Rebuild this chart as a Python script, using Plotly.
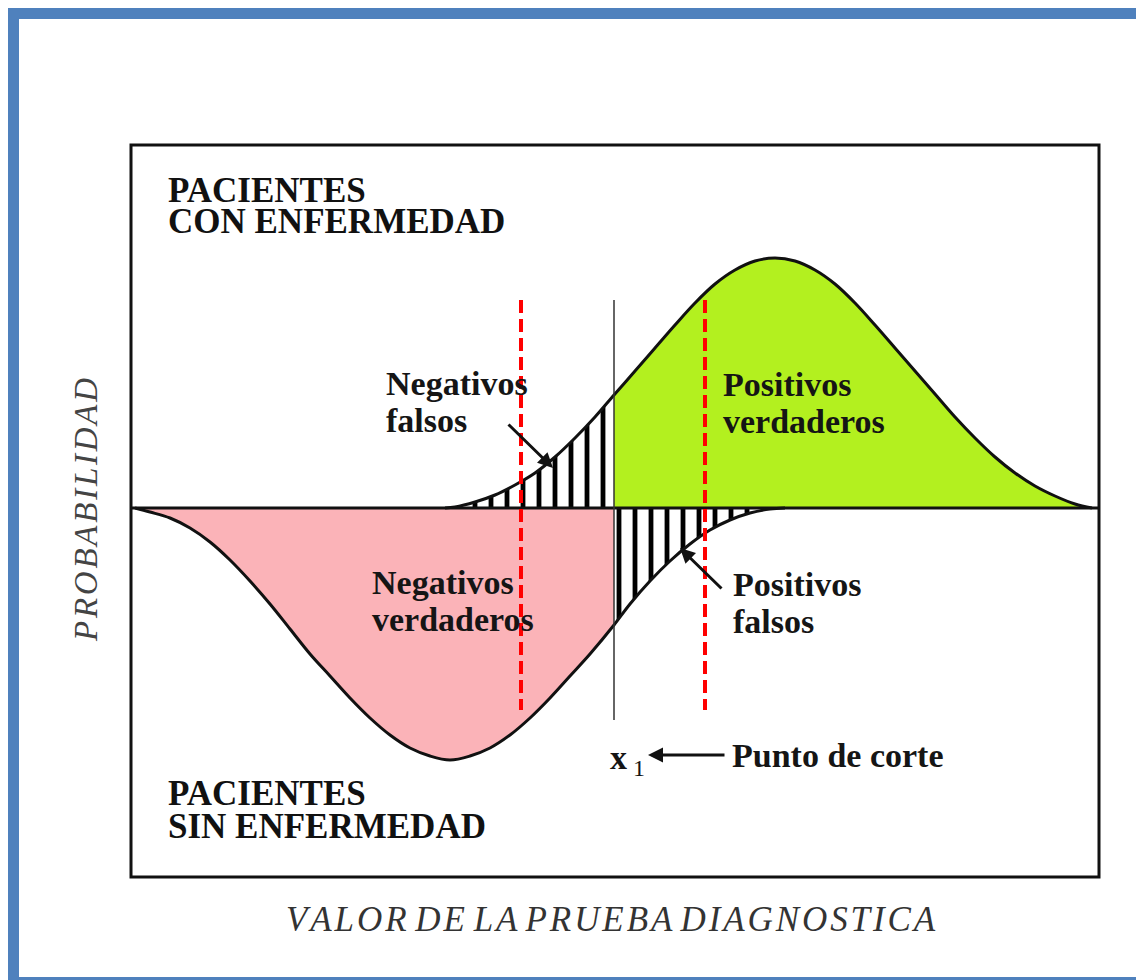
import plotly.graph_objects as go

# curve for patients with disease (upper), heights above baseline
valor_enf = [445, 455, 475, 495, 515, 535, 555, 575, 595, 614, 635, 655, 675, 695,
             715, 735, 755, 775, 795, 815, 835, 855, 875, 895, 915, 935, 955,
             975, 995, 1015, 1035, 1055, 1075, 1092]
prob_enf = [0, 1, 6, 13, 23, 35, 51, 70, 91, 113, 137, 160, 183, 205,
            224, 238, 247, 250, 247, 238, 224, 205, 183, 160, 137, 114, 91,
            70, 51, 35, 22, 12, 4, 0]

# curve for patients without disease (lower), depths below baseline
valor_sin = [135, 150, 170, 190, 210, 230, 250, 270, 290, 310, 330, 350, 370,
             390, 410, 430, 450, 470, 490, 510, 530, 550, 570, 590, 614, 630,
             650, 670, 690, 710, 730, 750, 770, 785]
prob_sin = [0, -4, -10, -20, -34, -52, -73, -96, -121, -146, -168, -190, -210,
            -227, -240, -248, -252, -248, -240, -227, -210, -190, -168, -146, -117, -96,
            -73, -53, -36, -22, -12, -5, -1, 0]

corte = 614               # punto de corte x1
referencias = [521, 705]  # red dashed lines

VERDE = '#B3F01F'
ROSA = '#FBB3B8'
AZUL = '#4F81BD'
FONT = 'Liberation Serif'


def seg(xs, ys, lo, hi):
    pts = [(x, y) for x, y in zip(xs, ys) if lo <= x <= hi]
    return [p[0] for p in pts], [p[1] for p in pts]


# page pixel -> paper fraction (plot area spans page px 131..1099, 145..877)
def pxx(px):
    return (px - 131) / 968


def pxy(py):
    return (877 - py) / 732


fig = go.Figure()

hatch = dict(shape='|', size=16, solidity=0.3, fgcolor='#000', fgopacity=1,
             bgcolor='white', fillmode='replace')
spl = dict(width=0, shape='spline', smoothing=1)

# fills
x, y = seg(valor_enf, prob_enf, 0, corte)
fig.add_trace(go.Scatter(x=x, y=y, mode='lines', line=spl,
                         fill='tozeroy', fillpattern=hatch, hoverinfo='skip'))
x, y = seg(valor_enf, prob_enf, corte, 2000)
fig.add_trace(go.Scatter(x=x, y=y, mode='lines', line=spl,
                         fill='tozeroy', fillcolor=VERDE, hoverinfo='skip'))
x, y = seg(valor_sin, prob_sin, 0, corte)
fig.add_trace(go.Scatter(x=x, y=y, mode='lines', line=spl,
                         fill='tozeroy', fillcolor=ROSA, hoverinfo='skip'))
x, y = seg(valor_sin, prob_sin, corte, 2000)
fig.add_trace(go.Scatter(x=x, y=y, mode='lines', line=spl,
                         fill='tozeroy', fillpattern=hatch, hoverinfo='skip'))

# outlines
for xs, ys in [(valor_enf, prob_enf), (valor_sin, prob_sin)]:
    fig.add_trace(go.Scatter(x=xs, y=ys, mode='lines',
                             line=dict(color='#111', width=3, shape='spline', smoothing=1),
                             hoverinfo='skip'))

# baseline
fig.add_shape(type='line', xref='paper', yref='y', x0=0, x1=1, y0=0, y1=0,
              line=dict(color='#111', width=3))
# cutoff line
fig.add_shape(type='line', x0=corte, x1=corte, y0=208, y1=-212,
              line=dict(color='#333', width=1.5))
for r in referencias:
    fig.add_shape(type='line', x0=r, x1=r, y0=208, y1=-202,
                  line=dict(color='#FF0000', width=4, dash='13px,6px'))

# frame box
fig.add_shape(type='rect', xref='paper', yref='paper', x0=0, x1=1, y0=0, y1=1,
              line=dict(color='#111', width=3))

# blue page border
for x0, x1, y0, y1 in [(8, 19, 8, 985), (8, 1150, 8, 19), (8, 1150, 977, 985)]:
    fig.add_shape(type='rect', xref='paper', yref='paper',
                  x0=pxx(x0), x1=pxx(x1), y0=pxy(y0), y1=pxy(y1),
                  fillcolor=AZUL, line=dict(width=0), layer='above')

head = dict(family=FONT, size=35, color='#111')
lab = dict(family=FONT, size=34, color='#151515')


def txt(s, x, y, font, **kw):
    fig.add_annotation(text=s, x=x, y=y, xanchor='left', yanchor='middle',
                       showarrow=False, font=font, **kw)


txt('<b>PACIENTES</b>', 166, 318, head)
txt('<b>CON ENFERMEDAD</b>', 166, 287, head)
txt('<b>PACIENTES</b>', 166, -285, head)
txt('<b>SIN ENFERMEDAD</b>', 166, -318, head)

txt('<b>Negativos</b>', 384, 125, lab)
txt('<b>falsos</b>', 384, 88, lab)
txt('<b>Positivos</b>', 721, 124, lab)
txt('<b>verdaderos</b>', 721, 87, lab)
txt('<b>Negativos</b>', 370, -74, lab)
txt('<b>verdaderos</b>', 370, -111, lab)
txt('<b>Positivos</b>', 731, -76, lab)
txt('<b>falsos</b>', 731, -113, lab)
txt('<b>x</b>', 608, -249, lab)
txt('1', 631, -260, dict(family=FONT, size=24, color='#151515'))
txt('<b>Punto de corte</b>', 730, -247, lab)

# arrows
for hx, hy, tx, ty in [(553, 40, 507, 85), (680, -40, 723, -82), (648, -247, 726, -247)]:
    fig.add_annotation(x=hx, y=hy, ax=tx, ay=ty, axref='x', ayref='y', text='',
                       showarrow=True, arrowhead=2, arrowsize=1, arrowwidth=3,
                       arrowcolor='#111')

# axis titles
hair = '\u200a'
titulo_y = hair.join('PROBABILIDAD')
fig.add_annotation(text='<i>' + titulo_y + '</i>',
                   xref='paper', yref='paper', x=pxx(66), y=pxy(510), textangle=-90,
                   showarrow=False, font=dict(family=FONT, size=33, color='#444'))
titulo_x = 'VALOR DE LA PRUEBA DIAGNOSTICA'
titulo_x = ' '.join(hair.join(w) for w in titulo_x.split(' '))
fig.add_annotation(text='<i>' + titulo_x + '</i>', xref='paper', yref='paper',
                   x=pxx(611), y=pxy(941), showarrow=False,
                   font=dict(family=FONT, size=35, color='#333'))

# the page body has an 8px margin, so the figure is 8px smaller than the window
fig.update_layout(
    width=1136, height=972,
    margin=dict(l=123, r=45, t=137, b=103),
    paper_bgcolor='white', plot_bgcolor='white',
    showlegend=False,
    xaxis=dict(range=[131, 1099], visible=False, fixedrange=True),
    yaxis=dict(range=[-369, 363], visible=False, fixedrange=True),
)

fig.write_html("out.html")
